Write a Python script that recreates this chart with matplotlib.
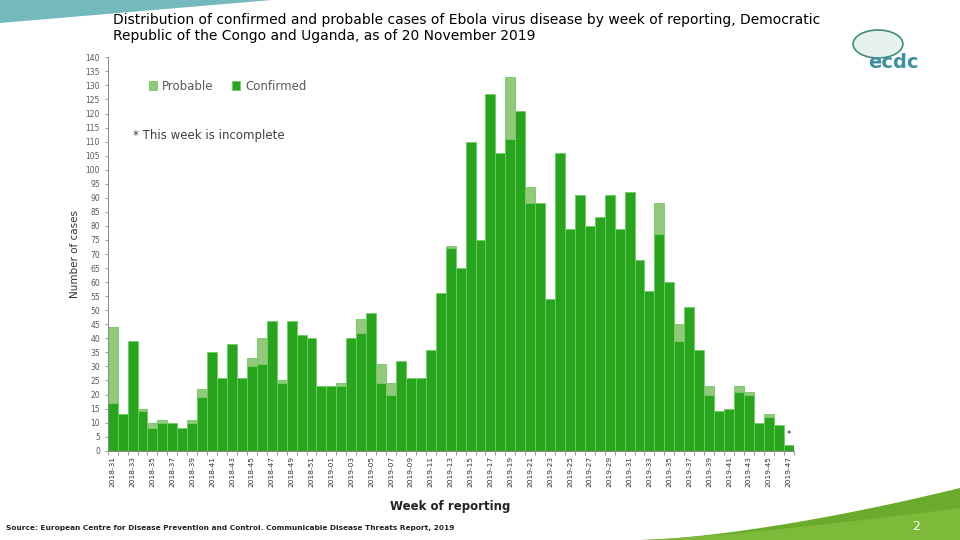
import matplotlib
matplotlib.use("Agg")
import matplotlib.pyplot as plt
from matplotlib.patches import Polygon, Circle
import numpy as np

weeks = (["2018-%02d" % w for w in range(31, 53)] +
         ["2019-%02d" % w for w in range(1, 48)])

confirmed = [17, 13, 39, 14, 8, 10, 10, 8, 10, 19, 35, 26, 38, 26, 30, 31, 46, 24, 46, 41, 40, 23,
             23, 23, 40, 42, 49, 24, 20, 32, 26, 26, 36, 56, 72, 65, 110, 75, 127, 106, 111, 121,
             88, 88, 54, 106, 79, 91, 80, 83, 91, 79, 92, 68, 57, 77, 60, 39, 51, 36, 20, 14, 15,
             21, 20, 10, 12, 9, 2]
probable = [27, 0, 0, 1, 2, 1, 0, 0, 1, 3, 0, 0, 0, 0, 3, 9, 0, 1, 0, 0, 0, 0,
            0, 1, 0, 5, 0, 7, 4, 0, 0, 0, 0, 0, 1, 0, 0, 0, 0, 0, 22, 0,
            6, 0, 0, 0, 0, 0, 0, 0, 0, 0, 0, 0, 0, 11, 0, 6, 0, 0, 3, 0, 0,
            2, 1, 0, 1, 0, 0]

title = ("Distribution of confirmed and probable cases of Ebola virus disease by week of reporting, Democratic\n"
         "Republic of the Congo and Uganda, as of 20 November 2019")
source = "Source: European Centre for Disease Prevention and Control. Communicable Disease Threats Report, 2019"

W, H = 960, 540
def fx(x): return x / W
def fy(y): return 1 - y / H

fig = plt.figure(figsize=(9.6, 5.4), dpi=100)
fig.patch.set_facecolor("white")

# decorations
fig.patches.append(Polygon([(fx(0), fy(0)), (fx(272), fy(0)), (fx(0), fy(23))],
                           closed=True, transform=fig.transFigure, facecolor="#74b9bd",
                           edgecolor="none", zorder=0))
swoosh_x = np.linspace(640, 960, 60)
swoosh_y = 540 - 52 * ((swoosh_x - 640) / 320) ** 1.5
pts = [(fx(x), fy(y)) for x, y in zip(swoosh_x, swoosh_y)] + [(fx(960), fy(540))]
fig.patches.append(Polygon(pts, closed=True, transform=fig.transFigure,
                           facecolor="#6aab2c", edgecolor="none", zorder=0))
swoosh_y2 = 540 - 32 * ((swoosh_x - 640) / 320) ** 1.3
pts2 = [(fx(x), fy(y)) for x, y in zip(swoosh_x, swoosh_y2)] + [(fx(960), fy(540))]
fig.patches.append(Polygon(pts2, closed=True, transform=fig.transFigure,
                           facecolor="#7dba3a", edgecolor="none", zorder=0))
fig.text(fx(916), fy(526), "2", color="white", fontsize=9, ha="center", va="center")

# logo approximation
fig.patches.append(Circle((fx(878), fy(44)), 14 / H, transform=fig.transFigure,
                          facecolor="#e8f2ec", edgecolor="#3c8d7a", linewidth=1.2, zorder=1))
fig.text(fx(893), fy(62), "ecdc", color="#3f8fa0", fontsize=14, ha="center", va="center",
         fontweight="bold")

# title and source
fig.text(fx(113), fy(13), title, fontsize=10, ha="left", va="top", color="black",
         linespacing=1.15)
fig.text(fx(6), fy(528), source, fontsize=5.3, ha="left", va="center", fontweight="bold",
         color="#222222")

# axes
ax = fig.add_axes([fx(107.7), fy(450.7), (793.6 - 107.7) / W, (450.7 - 57.3) / H])
x = np.arange(len(weeks))
conf_color = "#27a61d"
prob_color = "#93c97b"
edge = "#6fcb64"
ax.bar(x, confirmed, width=1.0, color=conf_color, edgecolor=edge, linewidth=0.6,
       label="Confirmed", zorder=2)
prob = np.array(probable, dtype=float)
conf = np.array(confirmed, dtype=float)
mask = prob > 0
ax.bar(x[mask], prob[mask], bottom=conf[mask], width=1.0, color=prob_color,
       edgecolor=edge, linewidth=0.6, label="Probable", zorder=2)

ax.set_xlim(-0.5, len(weeks) - 0.5)
ax.set_ylim(0, 140)
ax.set_yticks(np.arange(0, 141, 5))
ax.tick_params(axis="y", labelsize=5.5, labelcolor="#595959", color="#888888",
               length=2.5, width=0.6, pad=3)
ax.set_xticks(x[::2])
ax.set_xticklabels(weeks[::2], rotation=90, fontsize=5.3, color="#333333")
ax.set_xticks(np.arange(-0.5, len(weeks), 1), minor=True)
ax.tick_params(axis="x", which="major", length=0, pad=4)
ax.tick_params(axis="x", which="minor", length=3, color="#888888", width=0.6)
for s in ("top", "right"):
    ax.spines[s].set_visible(False)
for s in ("left", "bottom"):
    ax.spines[s].set_color("#888888")
    ax.spines[s].set_linewidth(0.7)

ax.set_ylabel("Number of cases", fontsize=7.5, color="#333333", labelpad=4)
ax.set_xlabel("Week of reporting", fontsize=8.5, fontweight="bold", color="#222222",
              labelpad=9)

handles, labels = ax.get_legend_handles_labels()
leg = ax.legend(handles[::-1], labels[::-1], ncol=2, frameon=False, fontsize=8.5,
                loc="center left", bbox_to_anchor=(fx(138), fy(86)),
                bbox_transform=fig.transFigure, handlelength=0.7, handleheight=0.7,
                handletextpad=0.4, columnspacing=1.6)
for t in leg.get_texts():
    t.set_color("#595959")

fig.text(fx(133), fy(135), "* This week is incomplete", fontsize=8.5, color="#404040",
         ha="left", va="center")
ax.text(x[-1], conf[-1] + prob[-1] + 2, "*", fontsize=6, ha="center", va="bottom",
        color="#222222")

fig.savefig("out.png", dpi=100)
